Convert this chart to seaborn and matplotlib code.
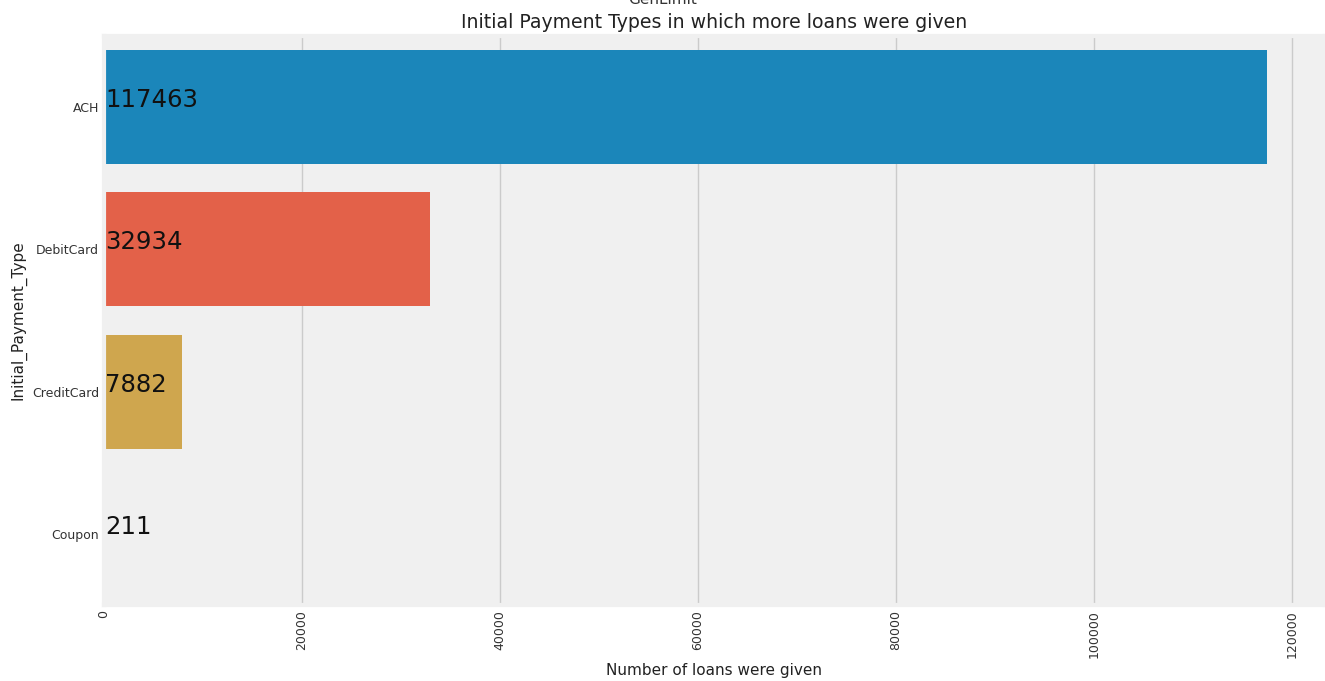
import matplotlib
matplotlib.use("Agg")
import matplotlib.pyplot as plt
import seaborn as sns
import pandas as pd

# Loan counts by initial payment type
payment_types = ["ACH", "DebitCard", "CreditCard", "Coupon"]
loan_counts = [117463, 32934, 7882, 211]

df = pd.DataFrame({"Initial_Payment_Type": payment_types, "count": loan_counts})

plt.style.use("fivethirtyeight")
plt.rcParams["font.family"] = ["DejaVu Sans"]

fig = plt.figure(figsize=(13.25, 6.81), dpi=100, facecolor="white")
ax = fig.add_axes([104 / 1325, 1 - 605 / 681, 1 - 104 / 1325, (605 - 36) / 681])

palette = ["#008fd5", "#fc4f30", "#e5ae38", "#6d904f"]
sns.barplot(data=df, x="count", y="Initial_Payment_Type", hue="Initial_Payment_Type",
            palette=palette, order=payment_types, legend=False, ax=ax)

for i, v in enumerate(loan_counts):
    ax.text(100, i - 0.05, f"{v}", fontsize=17.6, va="center", ha="left", color="#111111")

ax.set_title("Initial Payment Types in which more loans were given", fontsize=13.6,
             pad=6, color="#222222")
fig.text(0.5, 1 - 4 / 681, "GenLimit", ha="center", va="baseline", fontsize=11,
         color="#333333")
ax.set_xlabel("Number of loans were given", fontsize=11, color="#222222", labelpad=4)
ax.set_ylabel("Initial_Payment_Type", fontsize=11, color="#222222")
ax.tick_params(axis="x", labelrotation=90, labelsize=9, labelcolor="#333333")
ax.tick_params(axis="y", labelsize=9, labelcolor="#333333")
ax.set_xticks([0, 20000, 40000, 60000, 80000, 100000, 120000])

fig.savefig("out.png", dpi=100, facecolor="white")
